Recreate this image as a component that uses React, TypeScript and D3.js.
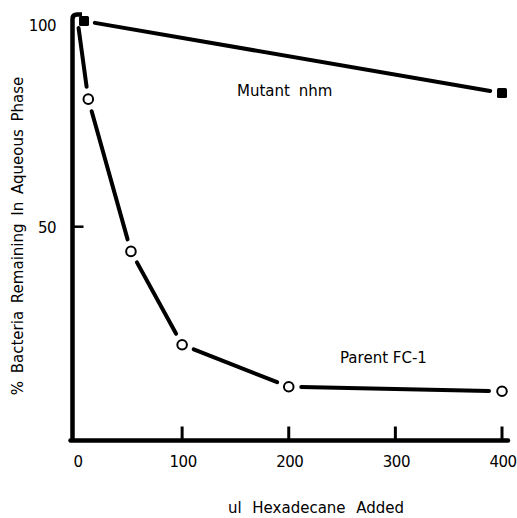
import React from "react";
import * as d3 from "d3";

// values
const mutantX = [8, 400];
const mutantY = [100, 82.5];
const parentX = [2, 12, 52, 100, 200, 400];
const parentY = [100, 81, 44, 21.3, 11.1, 10];
const xTicks = [0, 100, 200, 300, 400];
const yTicks = [50, 100];

const W = 517;
const H = 518;
const font = "'DejaVu Sans', sans-serif";

const x = d3.scaleLinear().domain([0, 400]).range([75.5, 502]);
const y = d3.scaleLinear().domain([0, 100]).range([432.4, 21]);

const axisX = 72.5;
const axisY = 440.5;

type P = [number, number];

// line pieces between markers, with little gaps like the original
function segments(pts: P[], gaps: number[]) {
  const out: string[] = [];
  for (let i = 0; i < pts.length - 1; i++) {
    const [x1, y1] = pts[i];
    const [x2, y2] = pts[i + 1];
    const len = Math.hypot(x2 - x1, y2 - y1);
    const ux = (x2 - x1) / len;
    const uy = (y2 - y1) / len;
    const a: P = [x1 + ux * gaps[i], y1 + uy * gaps[i]];
    const b: P = [x2 - ux * gaps[i + 1], y2 - uy * gaps[i + 1]];
    out.push(d3.line()([a, b]) as string);
  }
  return out;
}

export default function App() {
  const mutantPts: P[] = mutantX.map((v, i) => [x(v), y(mutantY[i])]);
  const parentPts: P[] = parentX.map((v, i) => [x(v), y(parentY[i])]);
  const mutantSegs = segments(mutantPts, [11, 12]);
  const parentSegs = segments(parentPts, [7, 12.5, 12.5, 12.5, 12.5, 13]);

  return (
    <svg width={W} height={H} style={{ position: "absolute", left: 0, top: 0, background: "#fff" }}>
      <rect width={W} height={H} fill="#fff" />

      {/* axes */}
      <path
        d={`M${axisX},${axisY} V${19} Q${axisX},14.5 ${axisX + 4.5},14.5 H82`}
        fill="none"
        stroke="#000"
        strokeWidth={4.5}
      />
      <line x1={axisX - 2} x2={508} y1={axisY} y2={axisY} stroke="#000" strokeWidth={4.5} strokeLinecap="round" />
      {xTicks.filter(t => t > 0).map(t => (
        <line key={t} x1={x(t)} x2={x(t)} y1={axisY} y2={axisY - 14} stroke="#000" strokeWidth={3} />
      ))}
      {yTicks.filter(t => t < 100).map(t => (
        <line key={t} x1={axisX} x2={axisX + 11} y1={y(t)} y2={y(t)} stroke="#000" strokeWidth={2.5} />
      ))}

      {/* tick labels */}
      {xTicks.map(t => (
        <text key={t} x={x(t) + (t === 0 ? 2.5 : 1)} y={467} textAnchor="middle" fontFamily={font} fontSize={15} letterSpacing={-0.5}>
          {t}
        </text>
      ))}
      {yTicks.map(t => (
        <text key={t} x={56} y={y(t) + (t === 100 ? 9.5 : 6)} textAnchor="end" fontFamily={font} fontSize={15} letterSpacing={-0.5}>
          {t}
        </text>
      ))}

      {/* axis titles */}
      <text x={316} y={513} textAnchor="middle" fontFamily={font} fontSize={15} wordSpacing={6}>
        ul Hexadecane Added
      </text>
      <text
        transform="translate(23,236) rotate(-90)"
        textAnchor="middle"
        fontFamily={font}
        fontSize={15}
        wordSpacing={3}
      >
        % Bacteria Remaining In Aqueous Phase
      </text>

      {/* series */}
      {mutantSegs.map((d, i) => (
        <path key={"m" + i} d={d} stroke="#000" strokeWidth={4} strokeLinecap="round" fill="none" />
      ))}
      {parentSegs.map((d, i) => (
        <path key={"p" + i} d={d} stroke="#000" strokeWidth={4} strokeLinecap="round" fill="none" />
      ))}
      {mutantPts.map(([cx, cy], i) => (
        <rect key={i} x={cx - 5} y={cy - 5} width={10} height={10} rx={1.5} fill="#000" />
      ))}
      {parentPts.slice(1).map(([cx, cy], i) => (
        <circle key={i} cx={cx} cy={cy} r={4.8} fill="#fff" stroke="#000" strokeWidth={2} />
      ))}

      {/* labels */}
      <text x={237} y={96} fontFamily={font} fontSize={15} fontWeight={500} wordSpacing={4}>
        Mutant nhm
      </text>
      <text x={340} y={363} fontFamily={font} fontSize={15} fontWeight={500}>
        Parent FC-1
      </text>
    </svg>
  );
}
